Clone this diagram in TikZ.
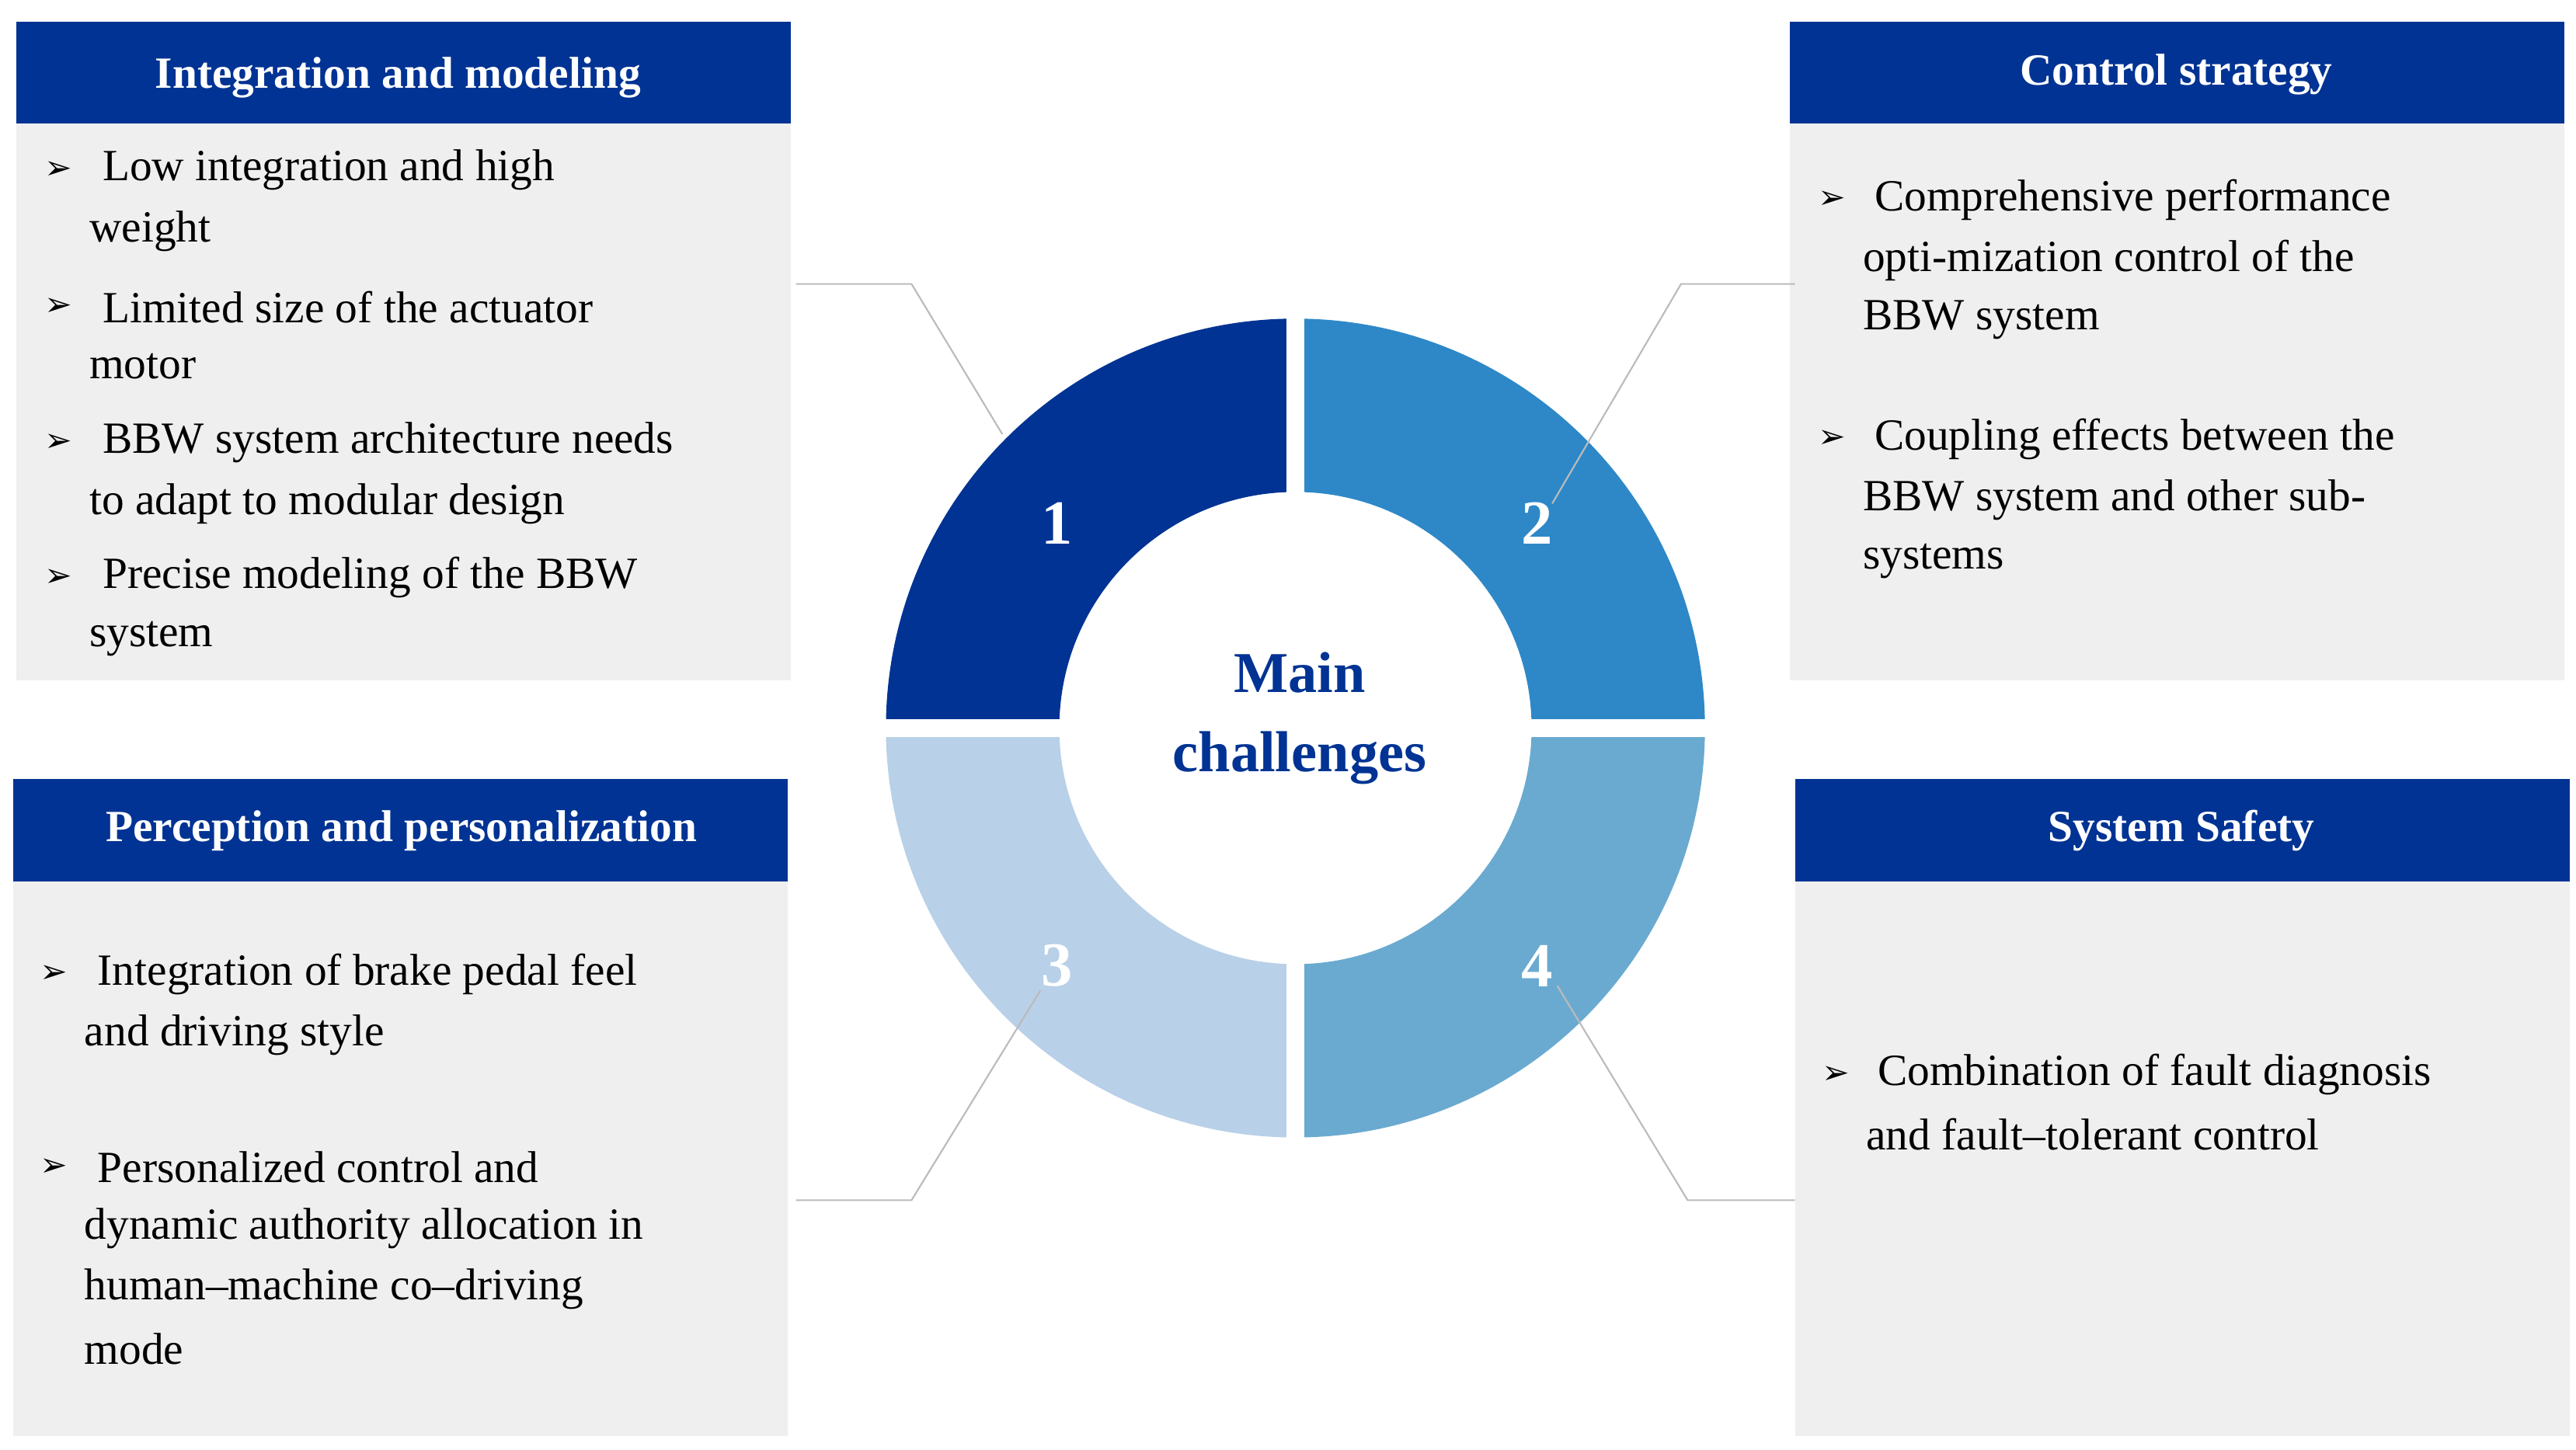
\documentclass[tikz,border=0pt]{standalone}
\usepackage{fontspec}
\setmainfont{Liberation Serif}
\newfontfamily\dv{DejaVu Sans}
\definecolor{hdr}{HTML}{003393}
\definecolor{bodyg}{HTML}{EFEFEF}
\definecolor{qa}{HTML}{003393}
\definecolor{qb}{HTML}{2E88C8}
\definecolor{qc}{HTML}{B8D0E8}
\definecolor{qd}{HTML}{6AAAD0}
\definecolor{conn}{HTML}{BBBBBB}
\begin{document}
\begin{tikzpicture}[x=1pt,y=-1pt,
  hd/.style={font=\fontsize{27}{32}\selectfont\bfseries,text=white},
  ln/.style={anchor=west,inner sep=0,font=\fontsize{27}{32}\selectfont},
  bl/.style={anchor=west,inner sep=0,font=\dv\fontsize{20}{24}\selectfont},
  num/.style={font=\fontsize{38}{40}\selectfont\bfseries,text=white},
  cn/.style={draw=conn,line width=1pt}]
\useasboundingbox (0,0) rectangle (1560,878);
% boxes
\fill[bodyg] (10,75) rectangle (479,412);
\fill[hdr] (10,13) rectangle (479,75);
\fill[bodyg] (1084,75) rectangle (1553,412);
\fill[hdr] (1084,13) rectangle (1553,75);
\fill[bodyg] (8,534) rectangle (477,870);
\fill[hdr] (8,472) rectangle (477,534);
\fill[bodyg] (1087,534) rectangle (1556,870);
\fill[hdr] (1087,472) rectangle (1556,534);
\node[hd] (h1) at (241,47) {Integration and modeling};
\node[hd] (h2) at (1318,45) {Control strategy};
\node[hd] (h3) at (243,503) {Perception and personalization};
\node[hd] (h4) at (1321,503) {System Safety};
% box1 text
\node[bl] (b11) at (27,103) {➢};
\node[ln] (t11) at (62,103) {Low integration and high};
\node[ln] (t12) at (54,140) {weight};
\node[bl] (b12) at (27,186) {➢};
\node[ln] (t13) at (62,186) {Limited size of the actuator};
\node[ln] (t14) at (54,222) {motor};
\node[bl] (b13) at (27,268) {➢};
\node[ln] (t15) at (62,268) {BBW system architecture needs};
\node[ln] (t16) at (54,305) {to adapt to modular design};
\node[bl] (b14) at (27,350) {➢};
\node[ln] (t17) at (62,350) {Precise modeling of the BBW};
\node[ln] (t18) at (54,387) {system};
% box2
\node[bl] (b21) at (1101,121) {➢};
\node[ln] (t21) at (1135,121) {Comprehensive performance};
\node[ln] (t22) at (1128,158) {opti-mization control of the};
\node[ln] (t23) at (1128,194) {BBW system};
\node[bl] (b22) at (1101,266) {➢};
\node[ln] (t24) at (1135,266) {Coupling effects between the};
\node[ln] (t25) at (1128,303) {BBW system and other sub-};
\node[ln] (t26) at (1128,340) {systems};
% box3
\node[bl] (b31) at (24,590) {➢};
\node[ln] (t31) at (59,590) {Integration of brake pedal feel};
\node[ln] (t32) at (51,627) {and driving style};
\node[bl] (b32) at (24,707) {➢};
\node[ln] (t33) at (59,707) {Personalized control and};
\node[ln] (t34) at (51,744) {dynamic authority allocation in};
\node[ln] (t35) at (51,781) {human--machine co--driving};
\node[ln] (t36) at (51,817) {mode};
% box4
\node[bl] (b41) at (1103,651) {➢};
\node[ln] (t41) at (1137,651) {Combination of fault diagnosis};
\node[ln] (t42) at (1130,687) {and fault--tolerant control};
% ring
\coordinate (c) at (784.5,441);
\fill[qa] (c) ++(-248,0) arc[start angle=180,end angle=270,radius=248] -- ++(0,105) arc[start angle=270,end angle=180,radius=143] -- cycle;
\fill[qb] (c) ++(0,-248) arc[start angle=270,end angle=360,radius=248] -- ++(-105,0) arc[start angle=360,end angle=270,radius=143] -- cycle;
\fill[qd] (c) ++(248,0) arc[start angle=0,end angle=90,radius=248] -- ++(0,-105) arc[start angle=90,end angle=0,radius=143] -- cycle;
\fill[qc] (c) ++(0,248) arc[start angle=90,end angle=180,radius=248] -- ++(105,0) arc[start angle=180,end angle=90,radius=143] -- cycle;
\draw[white,line width=10.5pt] (530,441) -- (1040,441);
\draw[white,line width=10.5pt] (784.5,185) -- (784.5,697);
\node[num] (n1) at (640,317) {1};
\node[num] (n2) at (931,317) {2};
\node[num] (n3) at (640,585) {3};
\node[num] (n4) at (931,585) {4};
\node[font=\fontsize{35}{48}\selectfont\bfseries,text=hdr,align=center] (mc) at (787,435) {Main\\challenges};
% connectors
\coordinate (a1) at (482,172); \coordinate (k1) at (552,172); \coordinate (e1) at (607,263);
\coordinate (a2) at (1087,172); \coordinate (k2) at (1018,172); \coordinate (e2) at (940,305);
\coordinate (a3) at (482,727); \coordinate (k3) at (552,727); \coordinate (e3) at (630,600);
\coordinate (a4) at (1087,727); \coordinate (k4) at (1022,727); \coordinate (e4) at (943,597);
\draw[cn] (a1) -- (k1) -- (e1);
\draw[cn] (a2) -- (k2) -- (e2);
\draw[cn] (a3) -- (k3) -- (e3);
\draw[cn] (a4) -- (k4) -- (e4);
\end{tikzpicture}
\end{document}
